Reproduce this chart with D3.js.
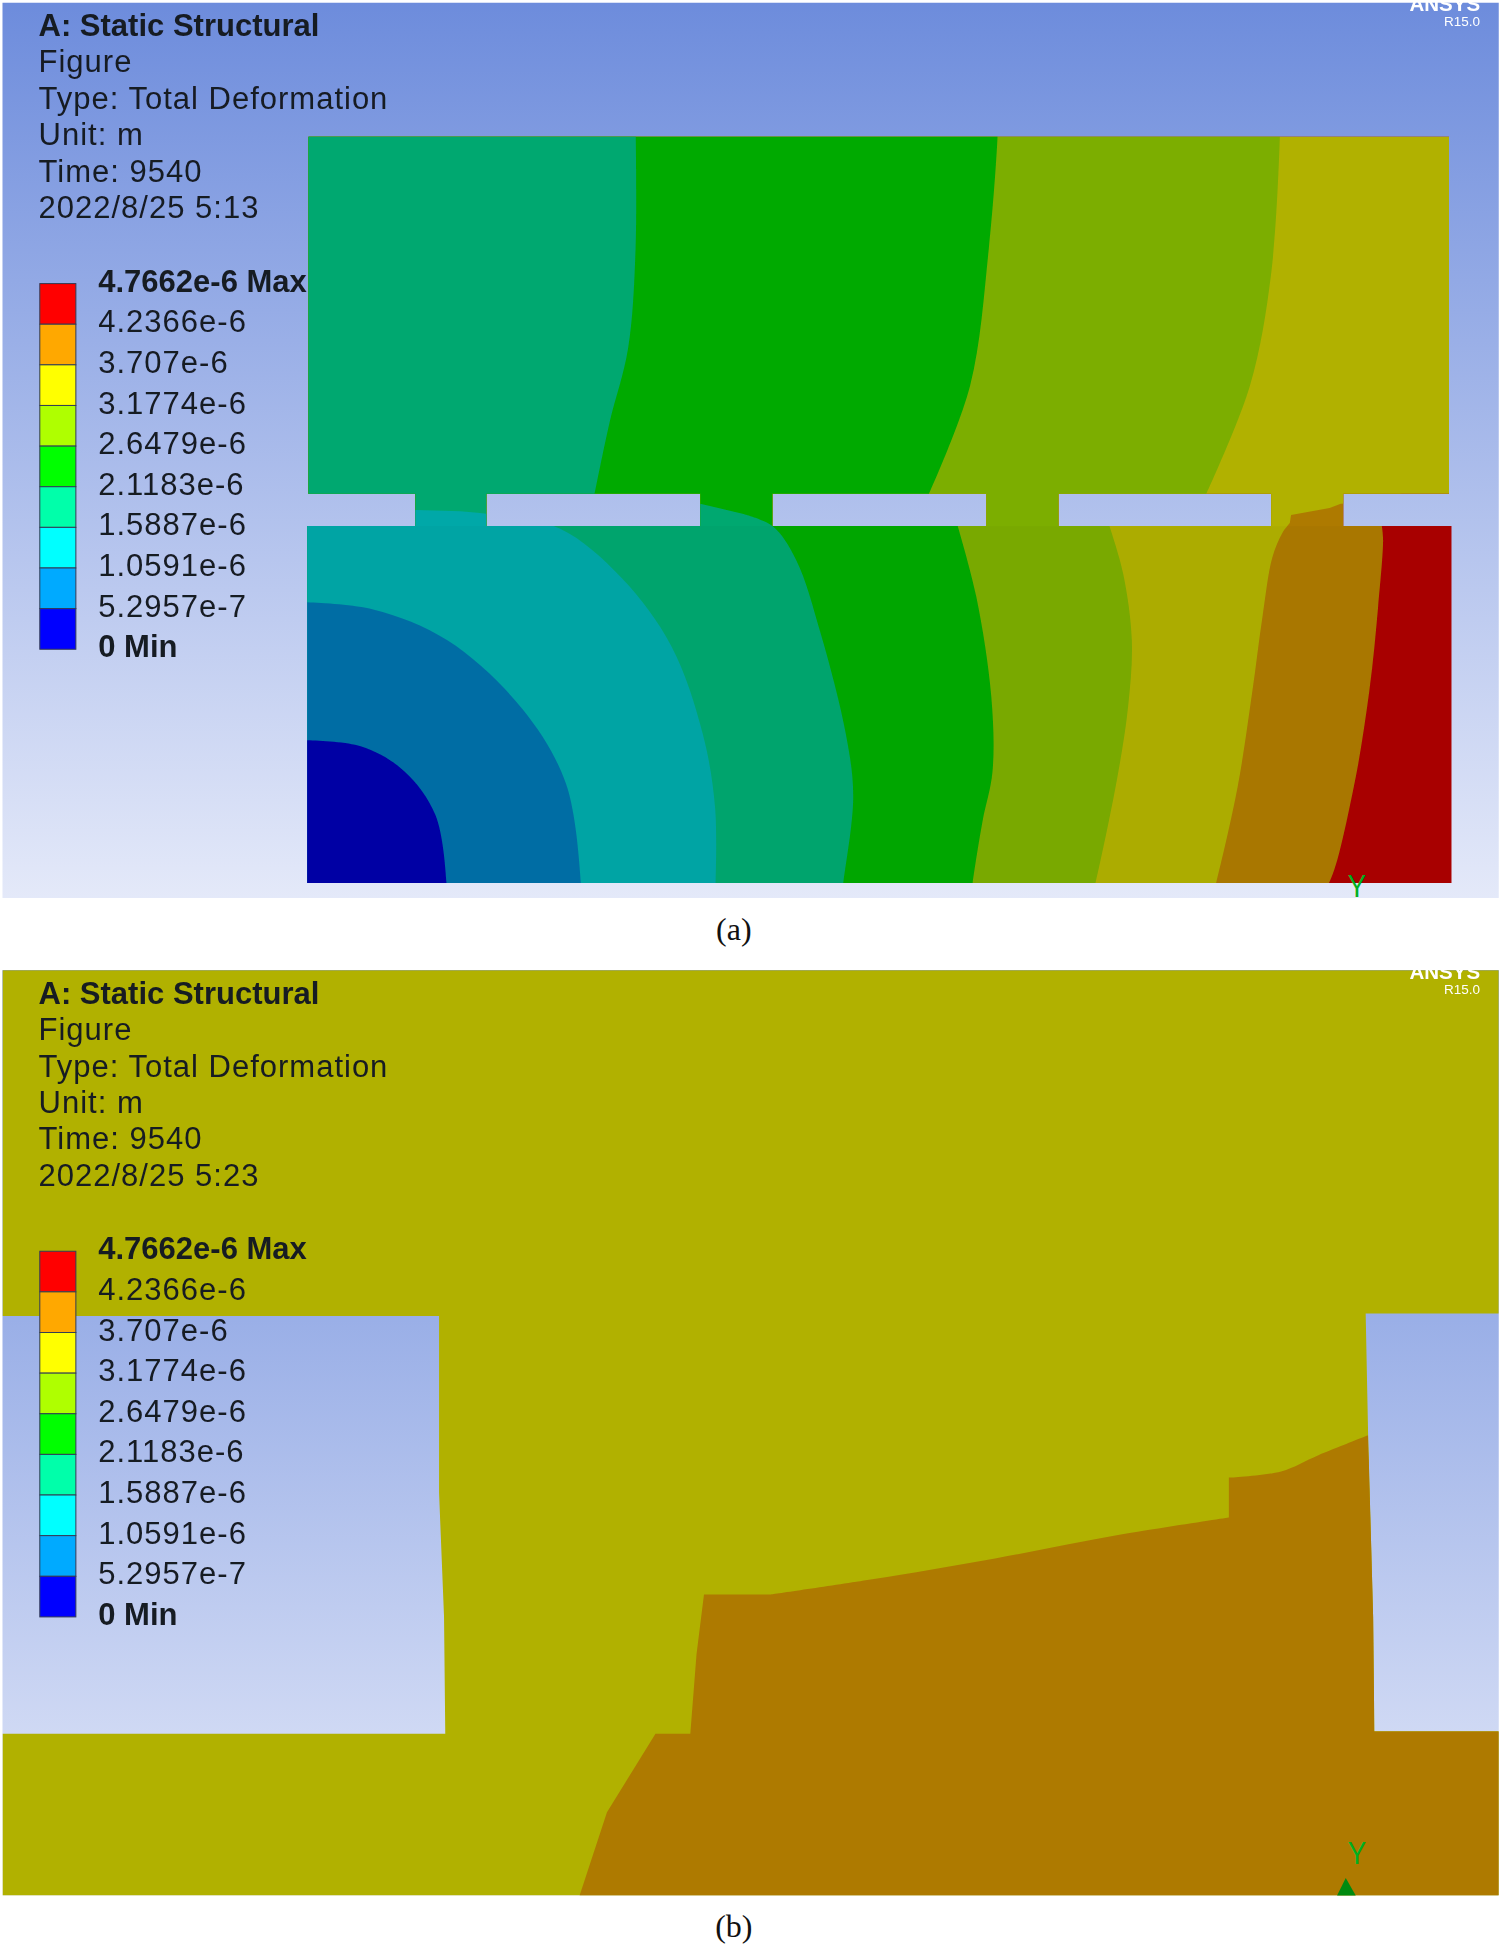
<!DOCTYPE html>
<html><head><meta charset="utf-8">
<style>html,body{margin:0;padding:0;background:#fff}svg{display:block}</style>
<script src="https://cdn.jsdelivr.net/npm/d3@7/dist/d3.min.js"></script></head>
<body><div id="c"></div>
<script>
// model units (the figure's own 1206 x 1567 sheet); a third element 1 marks a sharp corner
const headerA = ["A: Static Structural","Figure","Type: Total Deformation","Unit: m","Time: 9540","2022/8/25 5:13"];
const headerB = ["A: Static Structural","Figure","Type: Total Deformation","Unit: m","Time: 9540","2022/8/25 5:23"];
const legendLabels = ["4.7662e-6 Max","4.2366e-6","3.707e-6","3.1774e-6","2.6479e-6","2.1183e-6","1.5887e-6","1.0591e-6","5.2957e-7","0 Min"];
const legendColors = ["#ff0000","#ffa800","#ffff00","#afff00","#00ff00","#00ffaa","#00ffff","#00aaff","#0000ff"];
const captions = ["(a)","(b)"];

const bandRed = "#ad0000", bandBrown = "#ae7a00", bandOlive="#b1b100", bandLime="#7cae00", bandGreen="#00aa00", bandSea="#00a870", bandTeal="#00a8a8", bandBlue="#0070a8", bandNavy="#0000a8";

// contour boundaries, panel (a)
const contourBrown = [[1130,390,1],[1111,423,1],[1112,434],[1108,488],[1101,555],[1088,635],[1069,709],[1060,720]];
const contourOlive = [[1175,100,1],[1175,400,1],[1078,405,1],[1069,408.5,1],[1038,414,1],[1037,420.5,1],[1031,428.5],[1023,448],[1015,496],[1007,555],[995,633],[978,709],[975,720]];
const contourLime = [[1029,100],[1029,110],[1022,220],[1005,310],[970,397,1],[892,423,1],[903,461],[910,515],[907,568],[898,627],[881,709],[878,720]];
const contourGreen = [[802,100],[802,110],[795,200],[780,310],[747,397,1],[770,423,1],[785,480],[797,560],[798,620],[790,660],[782,710],[781,720]];
const contourSea = [[511,100],[511,200],[505,280],[490,340],[478,397,1],[563,405,1],[597,413,1],[621,423],[640,450],[660,510],[680,590],[686,640],[678,710],[677,720]];
const contourTeal = [[240,411],[334,410],[391,413],[450,425],[500,465],[540,520],[565,590],[575,650],[575,720]];
const contourBlue = [[240,484],[300,490],[360,515],[420,570],[455,630],[467,710],[467,720]];
const contourNavy = [[240,595],[290,600],[325,620],[350,655],[359,710],[359,720]];

// geometry of panel (a)
const upperBlock = [248,110,1165,397];
const lowerBlock = [247,423,1167,710];
const gapsA = [[334,391],[563,621],[793,851],[1022,1080]];
const stripA = [397,423];

// panel (b)
const notchLeft = [[2,1058],[353,1058],[353,1200],[357,1300],[358,1394],[2,1394]];
const notchRight = [[1098,1056],[1205,1056],[1205,1392],[1105,1392],[1104,1300],[1100,1155]];
const contourBrownB = [[466,1524,1],[488,1457,1],[527,1394,1],[555,1394,1],[560,1330,1],[566,1282,1],[620,1282,1],[700,1270],[800,1253],[900,1234],[988,1220,1],[988,1188,1],[1030,1183],[1060,1170],[1100,1154,1],[1105,1300,1],[1105,1392,1],[1205,1392,1],[1205,1524,1]];

const W=1500,H=1949;
const x=d3.scaleLinear().domain([0,1206]).range([0,W]);
const y=d3.scaleLinear().domain([0,1567]).range([0,H]);
const svg=d3.select("#c").append("svg").attr("width",W).attr("height",H).style("background","#fff");
const defs=svg.append("defs");
const g=defs.append("linearGradient").attr("id","sky").attr("x1",0).attr("y1",0).attr("x2",0).attr("y2",1);
g.append("stop").attr("offset",0).attr("stop-color","#6d8cdc");
g.append("stop").attr("offset",1).attr("stop-color","#e4e9f9");
defs.append("filter").attr("id","soft").append("feGaussianBlur").attr("stdDeviation",0.6);
defs.append("filter").attr("id","softer").append("feGaussianBlur").attr("stdDeviation",0.45);
const rect=(s,x0,y0,x1,y1)=>s.append("rect").attr("x",x(x0)).attr("y",y(y0)).attr("width",x(x1)-x(x0)).attr("height",y(y1)-y(y0));
const poly=d3.line().x(d=>x(d[0])).y(d=>y(d[1]));
const smooth=d3.line().x(d=>x(d[0])).y(d=>y(d[1])).curve(d3.curveCatmullRom.alpha(0.5));
// smooth between sharp corners
function contourPath(pts){
  let out="",seg=[pts[0]];
  for(let i=1;i<pts.length;i++){
    seg.push(pts[i]);
    if(pts[i][2]||i==pts.length-1){
      const s=smooth(seg);
      out+= out? "L"+s.slice(1) : s;
      seg=[pts[i]];
    }
  }
  return out;
}

const pa=[[2,2],[1205,722]], pb=[[2,780],[1205,1524]];
rect(svg,pa[0][0],pa[0][1],pa[1][0],pa[1][1]).attr("fill","url(#sky)");
rect(svg,pb[0][0],pb[0][1],pb[1][0],pb[1][1]).attr("fill","url(#sky)");

const clipA=defs.append("clipPath").attr("id","geomA");
rect(clipA,...upperBlock); rect(clipA,...lowerBlock);
gapsA.forEach(d=>rect(clipA,d[0],stripA[0]-1,d[1],stripA[1]+1));
const ga=svg.append("g").attr("filter","url(#softer)").append("g").attr("clip-path","url(#geomA)");
rect(ga,240,100,1175,720).attr("fill",bandRed);
const layers=[[contourBrown,bandBrown],[contourOlive,bandOlive],[contourLime,bandLime],[contourGreen,bandGreen],[contourSea,bandSea],[contourTeal,bandTeal],[contourBlue,bandBlue],[contourNavy,bandNavy]];
ga.selectAll("path").data(layers).join("path")
  .attr("fill",d=>d[1])
  .attr("d",d=>{const b=d[0],f=b[0],l=b[b.length-1];
    return contourPath(b)+`L${x(240)},${y(l[1])}L${x(240)},${y(f[1])}Z`;});
// slightly dimmer shading on the lower block
rect(ga,lowerBlock[0],lowerBlock[1],lowerBlock[2],lowerBlock[3]).attr("fill","#000").attr("opacity",0.025);

const clipB=defs.append("clipPath").attr("id","geomB");
clipB.append("path").attr("clip-rule","evenodd").attr("d",
  `M${x(2)},${y(780)}H${x(1205)}V${y(1524)}H${x(2)}Z`+poly(notchLeft)+"Z"+poly(notchRight)+"Z");
const gb=svg.append("g").attr("filter","url(#softer)").append("g").attr("clip-path","url(#geomB)");
rect(gb,2,780,1205,1524).attr("fill",bandOlive);
gb.append("path").attr("fill",bandBrown).attr("d",contourPath(contourBrownB)+"Z");

// axis triad
const triad=[[1091,712],[1091,1490]];
svg.append("path").attr("fill","#008a10").attr("d",poly([[1082,1510],[1075,1524],[1090,1524]])+"Z");
svg.selectAll("text.axisY").data(triad).join("text").attr("class","axisY")
  .attr("x",d=>x(d[0])).attr("y",d=>y(d[1])).attr("dy","0.36em").attr("text-anchor","middle")
  .attr("font-family","Open Sans").attr("font-weight",400).attr("font-size",31).attr("fill","#00b020").text("Y");

// text
const tg=svg.append("g").attr("filter","url(#soft)");
const offs=[0,778], headers=[headerA,headerB];
const legendY=d3.scaleLinear().domain([0,legendColors.length]).range([228,522]);
function label(t,xp,yp,bold){
  tg.append("text").attr("x",x(xp)).attr("y",y(yp)).attr("dy","0.36em")
    .attr("font-family","Liberation Sans").attr("font-size",31).attr("font-weight",bold?700:400)
    .attr("letter-spacing",bold?0:1).attr("fill","#161a24").text(t);
}
offs.forEach((o,k)=>{
  headers[k].forEach((t,i)=>label(t,31,20+o+i*29.3,i==0));
  legendColors.forEach((c,i)=>{
    tg.append("rect").attr("x",x(32)).attr("width",x(61)-x(32))
      .attr("y",y(legendY(i)+o)).attr("height",y(legendY(i+1))-y(legendY(i)))
      .attr("fill",c).attr("stroke","#333c55").attr("stroke-width",1);
  });
  legendLabels.forEach((t,i)=>label(t,79,legendY(i)-2.5+o,i==0||i==legendLabels.length-1));
  tg.append("text").attr("x",x(1190)).attr("y",y(9+o)).attr("text-anchor","end")
    .attr("font-family","Liberation Sans").attr("font-weight",700).attr("font-size",20.5).attr("fill","#fff")
    .text("ANSYS");
  tg.append("text").attr("x",x(1190)).attr("y",y(21+o)).attr("text-anchor","end")
    .attr("font-family","Liberation Sans").attr("font-size",13.5).attr("fill","#fff").text("R15.0");
});
captions.forEach((t,i)=>{
  svg.append("text").attr("x",x(590)).attr("y",y(i==0?747.5:1548.5)).attr("dy","0.33em").attr("text-anchor","middle")
    .attr("font-family","Liberation Serif").attr("font-size",32).attr("fill","#111").text(t);
});
rect(svg,0,0,1206,2).attr("fill","#fff");
</script></body></html>
